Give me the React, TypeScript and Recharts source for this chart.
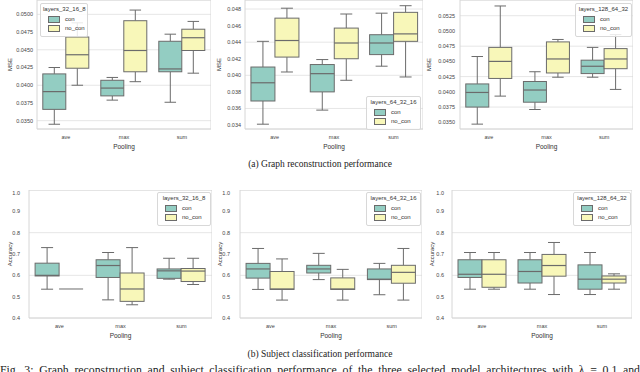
import { ComposedChart, Bar, XAxis, YAxis, CartesianGrid, ReferenceArea, Legend } from "recharts";

// each entry: [low whisker, q1, median, q3, high whisker], per pooling
const pooling = ["ave", "max", "sum"];
const hues = ["con", "no_con"];
const hueColors = ["#93cdc2", "#f8f7b9"];

const mse_32_16_8_con = [[0.0345, 0.0366, 0.0391, 0.0416, 0.0425], [0.0379, 0.0385, 0.0396, 0.0407, 0.0411], [0.0376, 0.0419, 0.0423, 0.0462, 0.0472]];
const mse_32_16_8_nocon = [[0.04, 0.0424, 0.0443, 0.0468, 0.0488], [0.0405, 0.0419, 0.0449, 0.0491, 0.0506], [0.0417, 0.0449, 0.0467, 0.0479, 0.049]];
const mse_64_32_16_con = [[0.0341, 0.0369, 0.0391, 0.041, 0.0441], [0.0358, 0.038, 0.0402, 0.0413, 0.0419], [0.0411, 0.0425, 0.0439, 0.0449, 0.0475]];
const mse_64_32_16_nocon = [[0.0404, 0.0422, 0.0442, 0.0469, 0.0481], [0.0394, 0.042, 0.0439, 0.0457, 0.0474], [0.0398, 0.0441, 0.045, 0.0476, 0.0484]];
const mse_128_64_32_con = [[0.0347, 0.0375, 0.0399, 0.0413, 0.0458], [0.0371, 0.0383, 0.0403, 0.0417, 0.0433], [0.0424, 0.043, 0.0442, 0.0452, 0.0473]];
const mse_128_64_32_nocon = [[0.0393, 0.0422, 0.045, 0.0473, 0.0541], [0.0424, 0.0431, 0.0454, 0.0482, 0.0486], [0.0404, 0.0438, 0.0454, 0.0471, 0.0494]];

const acc_32_16_8_con = [[0.535, 0.597, 0.6, 0.657, 0.73], [0.485, 0.59, 0.646, 0.673, 0.707], [0.582, 0.586, 0.621, 0.63, 0.68]];
const acc_32_16_8_nocon = [[0.536, 0.536, 0.536, 0.536, 0.536], [0.462, 0.478, 0.536, 0.611, 0.73], [0.557, 0.571, 0.62, 0.632, 0.68]];
const acc_64_32_16_con = [[0.534, 0.587, 0.63, 0.656, 0.726], [0.58, 0.611, 0.63, 0.647, 0.703], [0.509, 0.58, 0.582, 0.63, 0.656]];
const acc_64_32_16_nocon = [[0.484, 0.534, 0.536, 0.618, 0.677], [0.484, 0.534, 0.536, 0.588, 0.628], [0.484, 0.563, 0.614, 0.647, 0.726]];
const acc_128_64_32_con = [[0.535, 0.59, 0.605, 0.673, 0.707], [0.535, 0.564, 0.618, 0.673, 0.707], [0.51, 0.535, 0.582, 0.649, 0.707]];
const acc_128_64_32_nocon = [[0.535, 0.544, 0.605, 0.673, 0.707], [0.51, 0.596, 0.646, 0.698, 0.754], [0.535, 0.564, 0.582, 0.597, 0.607]];

const mseTicks1 = [0.035, 0.0375, 0.04, 0.0425, 0.045, 0.0475, 0.05];
const mseTicks2 = [0.034, 0.036, 0.038, 0.04, 0.042, 0.044, 0.046, 0.048];
const mseTicks3 = [0.035, 0.0375, 0.04, 0.0425, 0.045, 0.0475, 0.05, 0.0525];
const accTicks = [0.4, 0.5, 0.6, 0.7, 0.8, 0.9, 1.0];

const SANS = '"Liberation Sans", Arial, sans-serif';
const SERIF = '"Liberation Serif", "Times New Roman", serif';
const EDGE = "#6b6b6b";

function buildRows(con: number[][], noCon: number[][]) {
  return pooling.map((p, i) => ({
    pool: p,
    con: con[i],
    no_con: noCon[i],
    conBox: [con[i][1], con[i][3]],
    noConBox: [noCon[i][1], noCon[i][3]],
  }));
}

// eslint-disable-next-line @typescript-eslint/no-explicit-any
const BoxShape = (props: any) => {
  const { x, y, width, height, payload, statKey, fill } = props;
  const [lo, q1, med, q3, hi] = payload[statKey] as number[];
  const top = Math.min(y, y + height);
  const h = Math.abs(height);
  const cx = x + width / 2;
  const cap = width / 4;
  if (q3 - q1 <= 0 || h === 0) {
    return <line x1={x} x2={x + width} y1={top} y2={top} stroke={EDGE} strokeWidth={1} />;
  }
  const ppu = h / (q3 - q1);
  const yHi = top - (hi - q3) * ppu;
  const yLo = top + h + (q1 - lo) * ppu;
  const yMed = top + (q3 - med) * ppu;
  return (
    <g>
      <line x1={cx} x2={cx} y1={yHi} y2={top} stroke={EDGE} strokeWidth={1} />
      <line x1={cx} x2={cx} y1={top + h} y2={yLo} stroke={EDGE} strokeWidth={1} />
      <line x1={cx - cap} x2={cx + cap} y1={yHi} y2={yHi} stroke={EDGE} strokeWidth={1} />
      <line x1={cx - cap} x2={cx + cap} y1={yLo} y2={yLo} stroke={EDGE} strokeWidth={1} />
      <rect x={x} y={top} width={width} height={h} fill={fill} stroke={EDGE} strokeWidth={1} />
      <line x1={x} x2={x + width} y1={yMed} y2={yMed} stroke={EDGE} strokeWidth={1.2} />
    </g>
  );
};

const LegendBox = ({ title, width }: { title: string; width: number }) => (
  <div
    style={{
      width,
      boxSizing: "border-box",
      background: "rgba(255,255,255,0.85)",
      border: "1px solid #d8d8d8",
      borderRadius: 2,
      padding: "1px 2px 2px 2px",
      fontFamily: SANS,
      fontSize: 6,
      color: "#333",
      lineHeight: "9.5px",
    }}
  >
    <div style={{ textAlign: "center" }}>{title}</div>
    {hues.map((name, i) => (
      <div key={name} style={{ display: "flex", alignItems: "center" }}>
        <span
          style={{
            display: "inline-block",
            width: 10,
            height: 5,
            marginLeft: 5,
            marginRight: 5,
            background: hueColors[i],
            border: `0.5px solid ${EDGE}`,
          }}
        />
        {name}
      </div>
    ))}
  </div>
);

type PanelProps = {
  left: number;
  top: number;
  width: number;
  plotHeight: number;
  yWidth: number;
  domain: [number, number];
  ticks: number[];
  digits: number;
  yLabel: string;
  yLabelX: number;
  tickGap: number;
  con: number[][];
  noCon: number[][];
  legendTitle: string;
  legendX: number;
  legendY: number;
  legendW: number;
};

function Panel(p: PanelProps) {
  const rows = buildRows(p.con, p.noCon);
  return (
    <div style={{ position: "absolute", left: p.left, top: p.top }}>
      <ComposedChart
        width={p.width}
        height={p.plotHeight + 24}
        data={rows}
        margin={{ top: 0, right: 0, bottom: 4, left: 0 }}
        barCategoryGap="10%"
        barGap={0}
      >
        <CartesianGrid vertical={false} stroke="#e6e6e6" strokeWidth={1} />
        <ReferenceArea y1={p.domain[0]} y2={p.domain[1]} fill="none" stroke="#d6d6d6" strokeWidth={1} ifOverflow="visible" />
        <XAxis
          dataKey="pool"
          height={20}
          axisLine={false}
          tickLine={false}
          tickSize={0}
          tickMargin={6}
          tick={{ fontSize: 5.5, fill: "#444", fontFamily: SANS }}
          label={{ value: "Pooling", position: "insideBottom", offset: 0, style: { fontSize: 6.5, fill: "#333", fontFamily: SANS } }}
        />
        <YAxis
          width={p.yWidth}
          domain={p.domain}
          ticks={p.ticks}
          allowDataOverflow
          axisLine={false}
          tickLine={false}
          tickSize={0}
          tickMargin={p.tickGap}
          tickFormatter={(v: number) => v.toFixed(p.digits)}
          tick={{ fontSize: 5.5, fill: "#444", fontFamily: SANS }}
          label={{
            value: p.yLabel,
            angle: -90,
            position: "insideLeft",
            offset: p.yLabelX,
            style: { fontSize: 6, fill: "#333", fontFamily: SANS, textAnchor: "middle" },
          }}
        />
        <Bar
          dataKey="conBox"
          name="con"
          fill={hueColors[0]}
          isAnimationActive={false}
          shape={(s: object) => <BoxShape {...s} statKey="con" />}
        />
        <Bar
          dataKey="noConBox"
          name="no_con"
          fill={hueColors[1]}
          isAnimationActive={false}
          shape={(s: object) => <BoxShape {...s} statKey="no_con" />}
        />
        <Legend
          layout="horizontal"
          verticalAlign="middle"
          align="center"
          wrapperStyle={{ left: p.legendX, top: p.legendY, width: p.legendW, height: "auto" }}
          content={() => <LegendBox title={p.legendTitle} width={p.legendW} />}
        />
      </ComposedChart>
    </div>
  );
}

export default function App() {
  return (
    <div style={{ position: "absolute", left: 0, top: 0, width: 640, height: 372, overflow: "hidden", background: "#fff" }}>
      <Panel left={0} top={0} width={211} plotHeight={129} yWidth={37} domain={[0.03383, 0.05202]} ticks={mseTicks1} digits={4}
        yLabel="MSE" yLabelX={10} tickGap={4} con={mse_32_16_8_con} noCon={mse_32_16_8_nocon}
        legendTitle="layers_32_16_8" legendX={40} legendY={3} legendW={48} />
      <Panel left={212} top={0} width={211} plotHeight={129} yWidth={33} domain={[0.03352, 0.04909]} ticks={mseTicks2} digits={3}
        yLabel="MSE" yLabelX={7} tickGap={4} con={mse_64_32_16_con} noCon={mse_64_32_16_nocon}
        legendTitle="layers_64_32_16" legendX={154} legendY={96} legendW={55} />
      <Panel left={425} top={0} width={208} plotHeight={129} yWidth={35} domain={[0.0339, 0.05508]} ticks={mseTicks3} digits={4}
        yLabel="MSE" yLabelX={4} tickGap={5} con={mse_128_64_32_con} noCon={mse_128_64_32_nocon}
        legendTitle="layers_128_64_32" legendX={150} legendY={3} legendW={57} />

      <Panel left={0} top={190} width={212} plotHeight={128} yWidth={29} domain={[0.4, 1.0]} ticks={accTicks} digits={1}
        yLabel="Accuracy" yLabelX={10} tickGap={9} con={acc_32_16_8_con} noCon={acc_32_16_8_nocon}
        legendTitle="layers_32_16_8" legendX={157} legendY={2} legendW={54} />
      <Panel left={212} top={190} width={210} plotHeight={128} yWidth={28} domain={[0.4, 1.0]} ticks={accTicks} digits={1}
        yLabel="Accuracy" yLabelX={8} tickGap={10} con={acc_64_32_16_con} noCon={acc_64_32_16_nocon}
        legendTitle="layers_64_32_16" legendX={154} legendY={2} legendW={55} />
      <Panel left={424} top={190} width={208} plotHeight={128} yWidth={28} domain={[0.4, 1.0]} ticks={accTicks} digits={1}
        yLabel="Accuracy" yLabelX={8} tickGap={8} con={acc_128_64_32_con} noCon={acc_128_64_32_nocon}
        legendTitle="layers_128_64_32" legendX={149} legendY={2} legendW={58} />

      <div style={{ position: "absolute", left: 0, width: 640, top: 159, textAlign: "center", fontFamily: SERIF, fontSize: 9.5, color: "#222" }}>
        (a) Graph reconstruction performance
      </div>
      <div style={{ position: "absolute", left: 0, width: 640, top: 349, textAlign: "center", fontFamily: SERIF, fontSize: 9.5, color: "#222" }}>
        (b) Subject classification performance
      </div>
      <div style={{ position: "absolute", left: 0, width: 640, top: 364, fontFamily: SERIF, fontSize: 11.8, color: "#222", textAlign: "justify", textAlignLast: "justify", lineHeight: "12px", height: 12, overflow: "hidden" }}>
        Fig. 3: Graph reconstruction and subject classification performance of the three selected model architectures with λ = 0.1 and
      </div>
    </div>
  );
}
